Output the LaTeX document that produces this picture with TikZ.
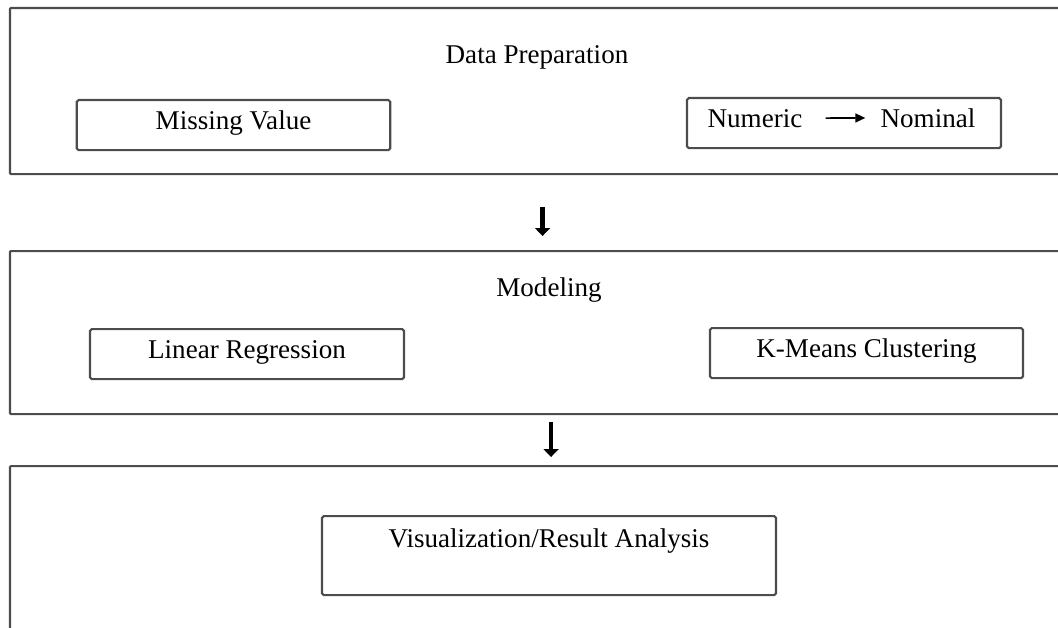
\documentclass[tikz,border=0pt]{standalone}
\usepackage{fontspec}
\setmainfont{Liberation Serif}
\usetikzlibrary{arrows.meta, positioning, calc}
\tikzset{
    stage/.style = {draw=black!70, line width=1.2pt, rectangle, rounded corners=0.5pt, minimum width=21.3cm, inner sep=0pt, anchor=north west},
    sub/.style = {draw=black!70, line width=1.2pt, rectangle, rounded corners=1pt, minimum width=6.27cm, inner xsep=0pt, inner ysep=0pt, text height=0.58cm, text depth=0.42cm, anchor=north},
    word/.style = {inner sep=0pt},
    flow/.style = {line width=2.4pt, -{Triangle[width=0.3cm, length=0.16cm]}},
    conv/.style = {line width=0.9pt, -{Triangle[width=0.18cm, length=0.2cm]}},
    shorten/.style 2 args = {shorten <=#1, shorten >=#2}
}

\begin{document}
\begin{tikzpicture}[font=\fontsize{15.4}{18}\selectfont]
    \useasboundingbox (0,0) rectangle (21.16,-12.56);
    \clip (0,0) rectangle (21.16,-12.56);

    \node (box1) [stage, minimum height=3.32cm] at (0.18,-0.14) {};
    \node (title1) [word] at (10.74,-1.14) {Data Preparation};
    \node (sub11) [sub] at (4.67,-1.98) {Missing Value};
    \node (sub12) [sub, minimum width=6.28cm] at (16.88,-1.94) {};
    \node (numeric) [word, anchor=base] at ([xshift=-1.78cm]sub12.base) {Numeric};
    \node (nominal) [word, anchor=base] at ([xshift=1.68cm]sub12.base) {Nominal};
    \draw[conv, shorten={0.46cm}{0.3cm}] (numeric) -- (nominal);

    \node (box2) [stage, minimum height=3.26cm] at (0.18,-5.0) {};
    \node (title2) [word] at (10.98,-5.8) {Modeling};
    \node (sub21) [sub, minimum width=6.28cm] at (4.94,-6.56) {Linear Regression};
    \node (sub22) [sub, minimum width=6.26cm] at (17.33,-6.54) {K-Means Clustering};

    \node (box3) [stage, minimum height=4cm] at (0.18,-9.3) {};
    \node (sub31) [sub, minimum width=9.08cm, text height=0.62cm, text depth=0.96cm] at (10.98,-10.3) {Visualization/Result Analysis};

    \draw[flow, shorten={0.64cm}{0.28cm}] (box1.south) -- (box2.north);
    \draw[flow, shorten={0.14cm}{0.16cm}] ([xshift=0.17cm]box2.south) -- ([xshift=0.17cm]box3.north);
\end{tikzpicture}
\end{document}
